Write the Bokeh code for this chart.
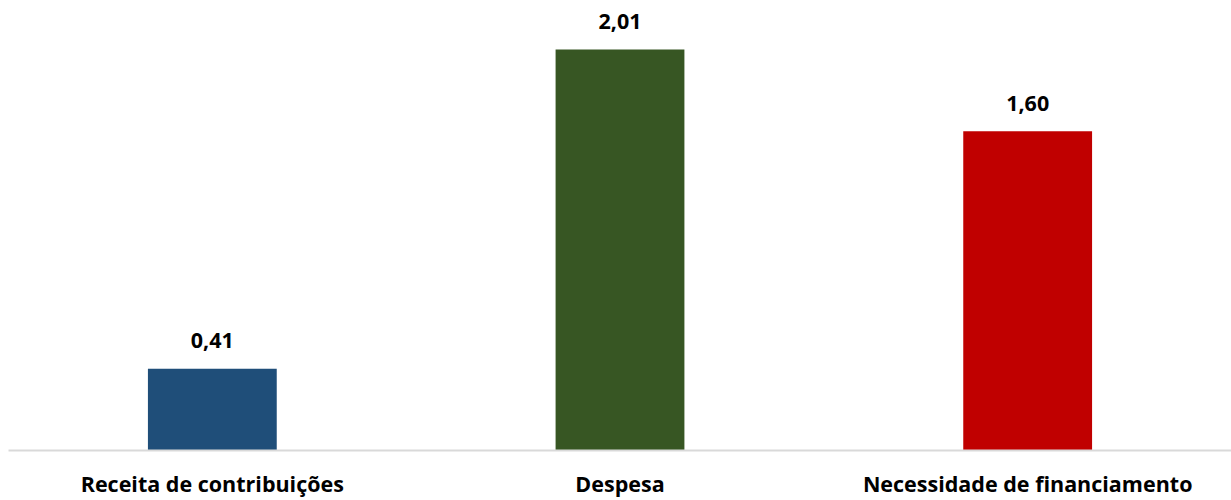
from bokeh.plotting import figure
from bokeh.models import ColumnDataSource, FactorRange, Range1d
from bokeh.core.properties import value
from bokeh.embed import file_html
from bokeh.resources import INLINE

categories = ["Receita de contribuições", "Despesa", "Necessidade de financiamento"]
values = [0.41, 2.01, 1.60]
colors = ["#1F4E79", "#375623", "#C00000"]
labels = ["0,41", "2,01", "1,60"]

source = ColumnDataSource(dict(cat=categories, val=values, color=colors, label=labels))

FONT = "Open Sans"
SIZE = "21.5px"

p = figure(
    frame_width=1223, frame_height=450,
    x_range=FactorRange(*categories, range_padding=0),
    y_range=Range1d(0, 2.256),
    output_backend="svg", toolbar_location=None,
    min_border_left=8, min_border_right=0, min_border_top=0, min_border_bottom=50,
)
p.outline_line_color = None
p.background_fill_color = "white"
p.border_fill_color = "white"
p.xgrid.visible = False
p.ygrid.visible = False
p.yaxis.visible = False

p.vbar(x="cat", top="val", width=0.316, color="color", source=source, line_color=None)

# value labels above each bar
p.text(x="cat", y="val", text="label", source=source,
       text_font=value(FONT), text_font_style="bold", text_font_size=SIZE,
       text_color="black", text_align="center", text_baseline="middle",
       y_offset=-28)

ax = p.xaxis[0]
ax.axis_line_color = "#D9D9D9"
ax.axis_line_width = 2
ax.major_tick_line_color = None
ax.minor_tick_line_color = None
ax.major_label_text_font = FONT
ax.major_label_text_font_style = "bold"
ax.major_label_text_font_size = SIZE
ax.major_label_text_color = "black"
ax.major_label_standoff = 12

open("out.html", "w").write(file_html(p, INLINE))
